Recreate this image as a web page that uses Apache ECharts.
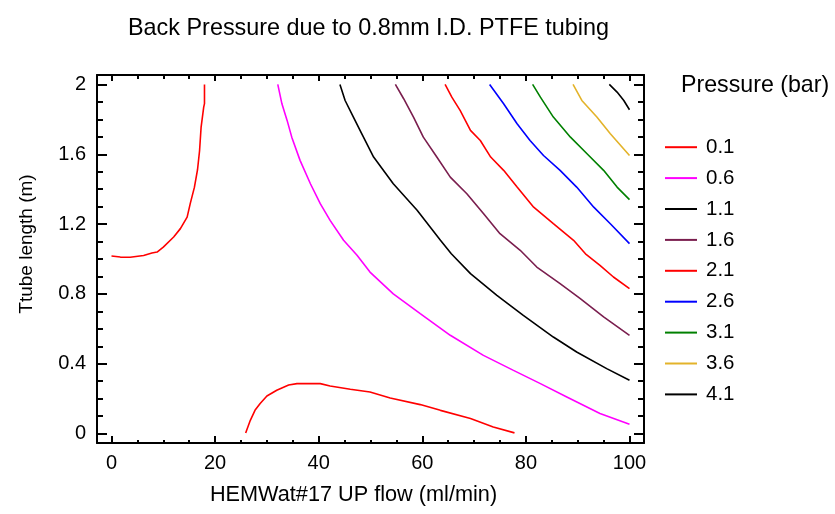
<!DOCTYPE html>
<html>
<head>
<meta charset="utf-8">
<script src="https://cdn.jsdelivr.net/npm/echarts@6/dist/echarts.min.js"></script>
<style>html,body{margin:0;padding:0;background:#fff}#chart{width:835px;height:514px}</style>
</head>
<body>
<div id="chart"></div>
<script>
// ---- data ----
const chartTitle = 'Back Pressure due to 0.8mm I.D. PTFE tubing';
const legendTitle = 'Pressure (bar)';
const xName = 'HEMWat#17 UP flow (ml/min)';
const yName = 'Ttube length (m)';
const xMajorTicks = [0, 20, 40, 60, 80, 100];
const xMinorTicks = [5, 10, 15, 25, 30, 35, 45, 50, 55, 65, 70, 75, 85, 90, 95];
const yMajorTicks = [0, 0.4, 0.8, 1.2, 1.6, 2];
const yMinorTicks = [0.1, 0.2, 0.3, 0.5, 0.6, 0.7, 0.9, 1.0, 1.1, 1.3, 1.4, 1.5, 1.7, 1.8, 1.9];
const levelNames = ['0.1', '0.6', '1.1', '1.6', '2.1', '2.6', '3.1', '3.6', '4.1'];

const c01a = [[0,1.017],[1.7,1.011],[3.6,1.01],[6.2,1.02],[7.8,1.034],[8.8,1.04],[10.0,1.068],[12.0,1.126],[13.3,1.174],[14.6,1.24],[15.2,1.317],[16.0,1.41],[16.6,1.51],[17.0,1.62],[17.3,1.756],[17.8,1.87],[17.95,1.89],[17.95,2.0]];
const c01b = [[25.9,0.003],[26.8,0.076],[27.7,0.133],[28.7,0.172],[30.0,0.215],[31.9,0.248],[34.2,0.278],[35.8,0.286],[40.3,0.286],[42.2,0.273],[46.1,0.254],[49.9,0.238],[53.8,0.204],[59.6,0.166],[63.5,0.133],[69.3,0.086],[73.7,0.038],[77.8,0.004]];
const c06 = [[32.1,2.0],[32.9,1.889],[33.9,1.794],[34.8,1.698],[36.4,1.565],[38.4,1.431],[40.3,1.317],[42.2,1.221],[44.8,1.107],[47.4,1.021],[49.9,0.925],[54.4,0.80],[59.6,0.687],[65.4,0.563],[71.8,0.448],[77.6,0.362],[82.8,0.286],[87.9,0.21],[94.3,0.115],[100,0.053]];
const c11 = [[44.1,2.0],[45.1,1.908],[46.7,1.813],[48.3,1.718],[50.6,1.584],[54.4,1.431],[59.0,1.279],[63.5,1.107],[65.6,1.03],[69.3,0.916],[74.4,0.792],[79.5,0.677],[85.3,0.553],[89.8,0.467],[95.6,0.372],[100,0.305]];
const c16 = [[54.8,2.0],[56.4,1.918],[58.3,1.813],[60.2,1.698],[62.8,1.584],[65.4,1.469],[68.6,1.374],[71.8,1.26],[75.0,1.145],[78.9,1.05],[82.1,0.954],[86.6,0.859],[90.5,0.773],[95.0,0.668],[100,0.563]];
const c21 = [[64.4,2.0],[65.7,1.927],[67.3,1.851],[69.3,1.737],[71.2,1.679],[73.2,1.584],[75.7,1.508],[78.3,1.412],[81.5,1.297],[85.3,1.202],[89.2,1.107],[91.5,1.03],[94.3,0.964],[96.9,0.897],[100,0.83]];
const c26 = [[73.0,2.0],[75.7,1.889],[78.3,1.775],[80.8,1.679],[83.4,1.593],[86.6,1.508],[89.8,1.412],[93.1,1.297],[96.3,1.202],[100,1.088]];
const c31 = [[81.3,2.0],[82.8,1.927],[85.3,1.813],[88.6,1.698],[91.8,1.603],[95.0,1.508],[97.6,1.412],[100,1.34]];
const c36 = [[89.1,2.0],[90.8,1.908],[93.7,1.813],[96.3,1.718],[100,1.593]];
const c41 = [[96.1,2.0],[97.6,1.956],[98.9,1.908],[100,1.855]];

const levelColors = ['#FF0000', '#FF00FF', '#000000', '#7A1E4E', '#FF0000', '#0000FF', '#008000', '#E3B32A', '#000000'];

// ---- chart ----
const FONT = 'Liberation Sans, Arial, sans-serif';
const XMIN = -2.8, XMAX = 102.8, YMIN = -0.054, YMAX = 2.054;

function xAxisDef(pos, ticks, len, labels, showLine) {
  return {
    type: 'value', position: pos, min: XMIN, max: XMAX,
    splitLine: { show: false },
    axisLine: { show: showLine, onZero: false, lineStyle: { color: '#000', width: 2 } },
    axisTick: { show: true, inside: true, length: len, customValues: ticks, lineStyle: { color: '#000', width: 2 } },
    axisLabel: labels ? { show: true, customValues: ticks, color: '#000', fontSize: 20, fontFamily: FONT, margin: 10 } : { show: false }
  };
}
function yAxisDef(pos, ticks, len, labels, showLine) {
  return {
    type: 'value', position: pos, min: YMIN, max: YMAX,
    splitLine: { show: false },
    axisLine: { show: showLine, onZero: false, lineStyle: { color: '#000', width: 2 } },
    axisTick: { show: true, inside: true, length: len, customValues: ticks, lineStyle: { color: '#000', width: 2 } },
    axisLabel: labels ? { show: true, customValues: ticks, color: '#000', fontSize: 20, fontFamily: FONT, margin: 11 } : { show: false }
  };
}

const xAxes = [
  Object.assign(xAxisDef('bottom', xMajorTicks, 7, true, true), {
    name: xName, nameLocation: 'middle', nameGap: 41,
    nameTextStyle: { color: '#000', fontSize: 21.7, fontFamily: FONT, padding: [0, 34, 0, 0] }
  }),
  xAxisDef('bottom', xMinorTicks, 3, false, false),
  xAxisDef('top', xMajorTicks, 6, false, true),
  xAxisDef('top', xMinorTicks, 4, false, false)
];
const yAxes = [
  Object.assign(yAxisDef('left', yMajorTicks, 10, true, true), {
    name: yName, nameLocation: 'middle', nameGap: 61,
    nameTextStyle: { color: '#000', fontSize: 19, fontFamily: FONT, padding: [0, 0, 0, 30] }
  }),
  yAxisDef('left', yMinorTicks, 6, false, false),
  yAxisDef('right', yMajorTicks, 10, false, true),
  yAxisDef('right', yMinorTicks, 6, false, false)
];

const seriesData = [
  [levelNames[0], c01a, levelColors[0]],
  [levelNames[0], c01b, levelColors[0]],
  [levelNames[1], c06, levelColors[1]],
  [levelNames[2], c11, levelColors[2]],
  [levelNames[3], c16, levelColors[3]],
  [levelNames[4], c21, levelColors[4]],
  [levelNames[5], c26, levelColors[5]],
  [levelNames[6], c31, levelColors[6]],
  [levelNames[7], c36, levelColors[7]],
  [levelNames[8], c41, levelColors[8]]
];

const chart = echarts.init(document.getElementById('chart'), null, { renderer: 'canvas' });
chart.setOption({
  backgroundColor: '#fff',
  animation: false,
  title: [
    { text: chartTitle, left: 128, top: 17, padding: 0, textStyle: { color: '#000', fontSize: 23.4, fontWeight: 'normal', fontFamily: FONT } },
    { text: legendTitle, left: 681, top: 74, padding: 0, textStyle: { color: '#000', fontSize: 23.2, fontWeight: 'normal', fontFamily: FONT } }
  ],
  grid: { left: 97, top: 75, width: 547, height: 368 },
  xAxis: xAxes,
  yAxis: yAxes,
  legend: {
    orient: 'vertical', left: 665, top: 136.7, padding: 0,
    icon: 'rect', itemWidth: 32, itemHeight: 2, itemGap: 9.9,
    data: levelNames,
    textStyle: { color: '#000', fontSize: 20.5, fontFamily: FONT, lineHeight: 20, padding: [0, 0, 0, 4] }
  },
  series: seriesData.map(s => ({
    name: s[0], type: 'line', data: s[1], showSymbol: false, symbol: 'none',
    smooth: false, silent: true,
    lineStyle: { color: s[2], width: 1.6 }, itemStyle: { color: s[2] }
  }))
});
</script>
</body>
</html>
